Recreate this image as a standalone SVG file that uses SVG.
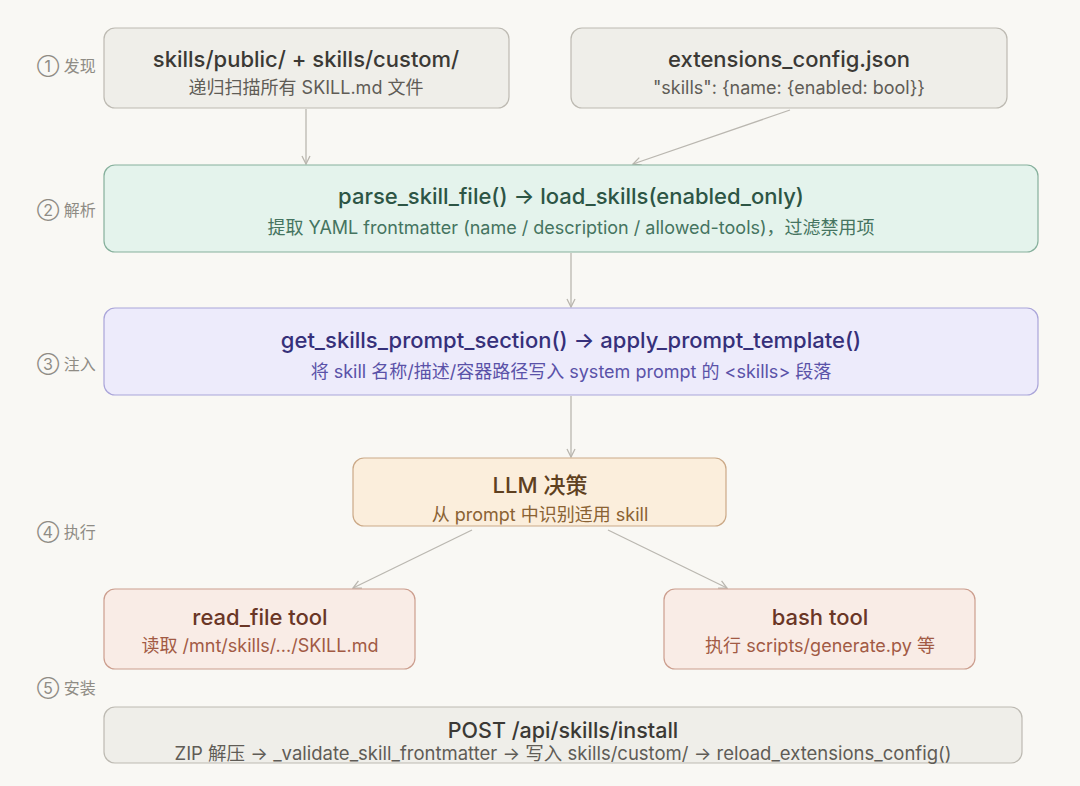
<svg xmlns="http://www.w3.org/2000/svg" width="1080" height="786" viewBox="0 0 1080 786">
<defs>
<marker id="arr" viewBox="0 0 10 10" refX="9" refY="5" markerWidth="10" markerHeight="10" markerUnits="userSpaceOnUse" orient="auto">
<path d="M1,1 L9,5 L1,9" fill="none" stroke="#b9b6ae" stroke-width="1.3"/>
</marker>
<style>
text{font-family:Inter,"Noto Sans CJK SC",sans-serif;text-anchor:middle}
.lbl{font-size:16px;fill:#8f8c85;text-anchor:start}
.t{font-size:22px;font-weight:500}
.s{font-size:18px}
.gray rect{fill:#efeee9;stroke:#bdbab2;stroke-width:1.2}
.gray .t{fill:#3b3935}.gray .s{fill:#5f5c56}
.green rect{fill:#e4f3ec;stroke:#86b09c;stroke-width:1.2}
.green .t{fill:#2d5545}.green .s{fill:#457460}
.purple rect{fill:#edebfb;stroke:#aaa5d9;stroke-width:1.2}
.purple .t{fill:#36307a}.purple .s{fill:#5a52a8}
.amber rect{fill:#fbeedc;stroke:#cba987;stroke-width:1.2}
.amber .t{fill:#5e4020}.amber .s{fill:#8a6233}
.rose rect{fill:#f9ece6;stroke:#cc9e8e;stroke-width:1.2}
.rose .t{fill:#6a3626}.rose .s{fill:#a25a44}
.edge{fill:none;stroke:#bab7b0;stroke-width:1.3;marker-end:url(#arr)}
</style>
</defs>
<rect width="1080" height="786" fill="#f9f8f4"/>
<g id="stage-labels">
<text class="lbl" x="37" y="72">① 发现</text>
<text class="lbl" x="37" y="216">② 解析</text>
<text class="lbl" x="37" y="370">③ 注入</text>
<text class="lbl" x="37" y="538">④ 执行</text>
<text class="lbl" x="37" y="694">⑤ 安装</text>
</g>
<g id="connectors">
<path class="edge" d="M306,109 L306,164"/>
<path class="edge" d="M790,110 L633,164"/>
<path class="edge" d="M571,253 L571,307"/>
<path class="edge" d="M571,396 L571,457"/>
<path class="edge" d="M472,530 L353,588"/>
<path class="edge" d="M608,530 L727,588"/>
</g>
<g id="discover" class="gray">
<rect x="104" y="28" width="405" height="80" rx="11"/>
<text class="t" x="306" y="67">skills/public/ + skills/custom/</text>
<text class="s" x="306" y="94">递归扫描所有 SKILL.md 文件</text>
</g>
<g id="config" class="gray">
<rect x="571" y="28" width="436" height="80" rx="11"/>
<text class="t" x="789" y="67">extensions_config.json</text>
<text class="s" x="789" y="94">"skills": {name: {enabled: bool}}</text>
</g>
<g id="parse" class="green">
<rect x="104" y="165" width="934" height="87" rx="11"/>
<text class="t" x="571" y="204">parse_skill_file() → load_skills(enabled_only)</text>
<text class="s" x="571" y="234">提取 YAML frontmatter (name / description / allowed-tools)，过滤禁用项</text>
</g>
<g id="inject" class="purple">
<rect x="104" y="308" width="934" height="87" rx="11"/>
<text class="t" x="571" y="348">get_skills_prompt_section() → apply_prompt_template()</text>
<text class="s" x="571" y="378">将 skill 名称/描述/容器路径写入 system prompt 的 &lt;skills&gt; 段落</text>
</g>
<g id="llm" class="amber">
<rect x="353" y="458" width="373" height="68" rx="11"/>
<text class="t" x="540" y="493" font-weight="600">LLM 决策</text>
<text class="s" x="540" y="521">从 prompt 中识别适用 skill</text>
</g>
<g id="read-file" class="rose">
<rect x="104" y="589" width="311" height="80" rx="11"/>
<text class="t" x="260" y="625">read_file tool</text>
<text class="s" x="260" y="652">读取 /mnt/skills/.../SKILL.md</text>
</g>
<g id="bash" class="rose">
<rect x="664" y="589" width="311" height="80" rx="11"/>
<text class="t" x="820" y="625">bash tool</text>
<text class="s" x="820" y="652">执行 scripts/generate.py 等</text>
</g>
<g id="install" class="gray">
<rect x="104" y="707" width="918" height="56" rx="11"/>
<text class="t" x="563" y="738" style="font-size:21.5px">POST /api/skills/install</text>
<text class="s" x="563" y="760" style="font-size:18.5px">ZIP 解压 → _validate_skill_frontmatter → 写入 skills/custom/ → reload_extensions_config()</text>
</g>
</svg>
